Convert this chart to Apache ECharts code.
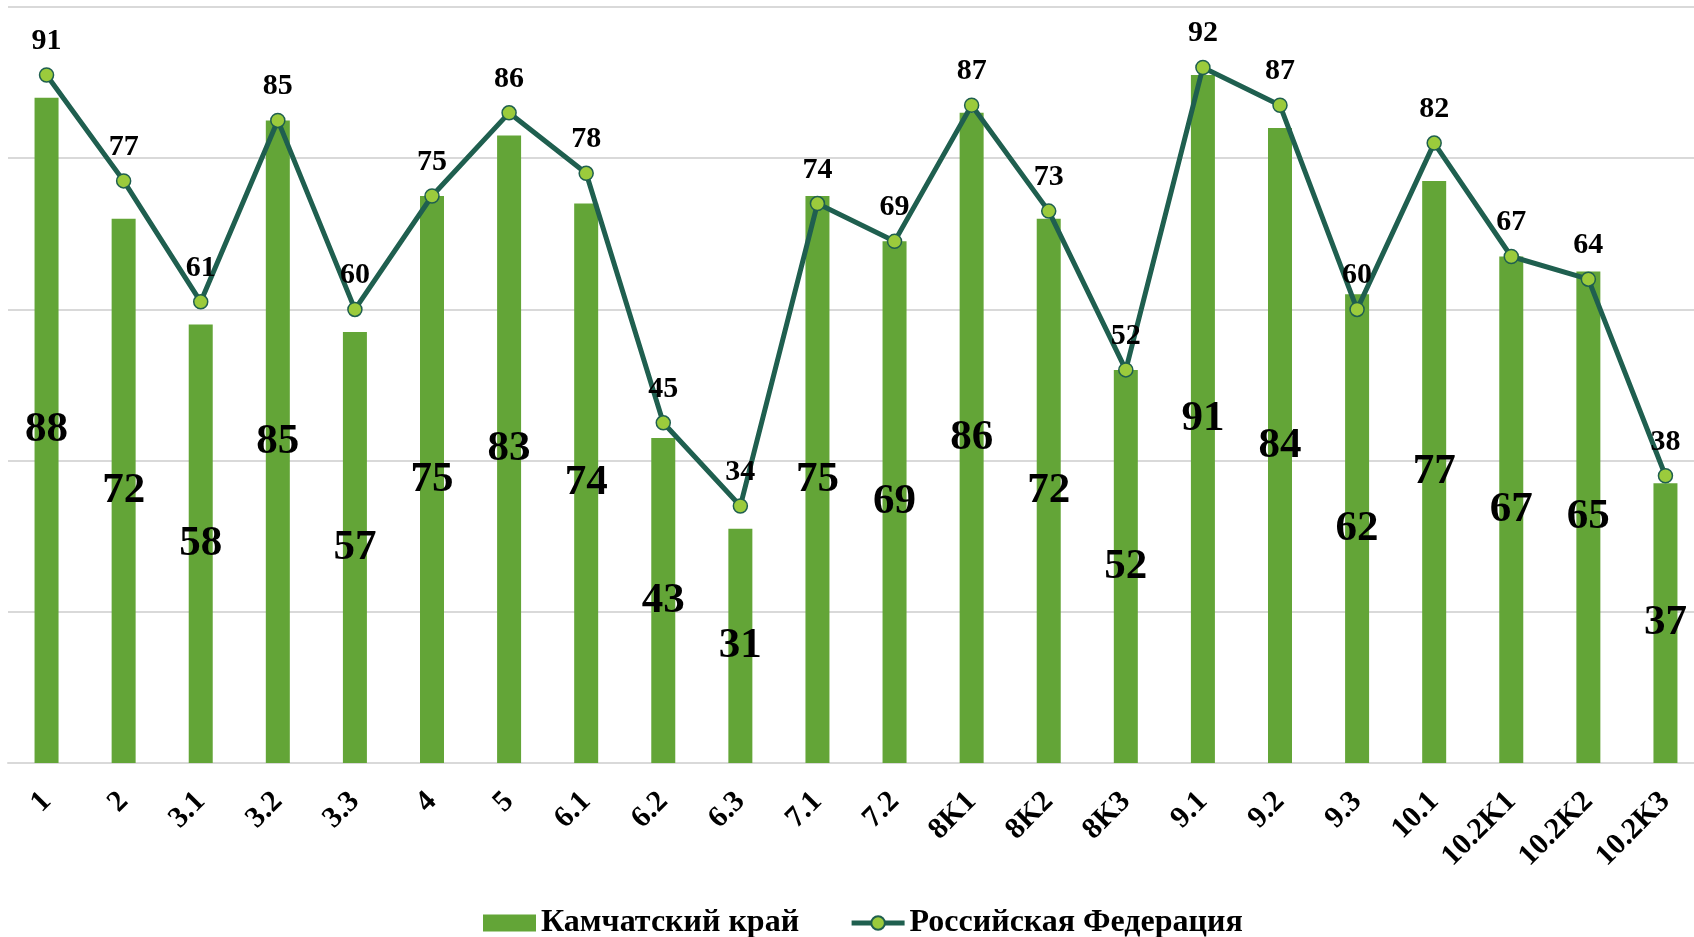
<!DOCTYPE html>
<html>
<head>
<meta charset="utf-8">
<title>Камчатский край и Российская Федерация</title>
<script src="https://cdn.jsdelivr.net/npm/echarts@6/dist/echarts.min.js"></script>
<style>
  html, body { margin: 0; padding: 0; background: #ffffff; overflow: hidden; }
  /* the plot runs slightly past the right edge of the page */
  #chart { width: 1704px; height: 937px; }
</style>
</head>
<body>
<div id="chart"></div>
<script>
// Task codes along the x axis
var categories = ['1', '2', '3.1', '3.2', '3.3', '4', '5', '6.1', '6.2', '6.3', '7.1', '7.2',
  '8K1', '8K2', '8K3', '9.1', '9.2', '9.3', '10.1', '10.2K1', '10.2K2', '10.2K3'];

// Percentages: Kamchatka region (bars) and Russian Federation (line)
var kamchatkaValues = [88, 72, 58, 85, 57, 75, 83, 74, 43, 31, 75, 69, 86, 72, 52, 91, 84, 62, 77, 67, 65, 37];
var russiaValues = [91, 77, 61, 85, 60, 75, 86, 78, 45, 34, 74, 69, 87, 73, 52, 92, 87, 60, 82, 67, 64, 38];

var seriesNames = ['Камчатский край', 'Российская Федерация'];

var serif = '"Liberation Serif", "Times New Roman", "DejaVu Serif", serif';
var barColor = '#63a537';
var lineColor = '#1f5f4f';
var markerColor = '#9bcb3c';
var gridColor = '#d9d9d9';

var chart = echarts.init(document.getElementById('chart'), null, { renderer: 'canvas' });

chart.setOption({
  animation: false,
  backgroundColor: '#ffffff',
  textStyle: { fontFamily: serif },
  grid: { left: 8, top: 7, right: 0, bottom: 174, containLabel: false },
  legend: {
    data: [
      { name: seriesNames[0], icon: 'rect' },
      { name: seriesNames[1], lineStyle: { width: 5, color: lineColor } }
    ],
    left: 478,
    top: 902,
    itemWidth: 53,
    itemHeight: 17,
    itemGap: 50,
    textStyle: { fontFamily: serif, fontWeight: 'bold', fontSize: 32, color: '#000000' }
  },
  xAxis: {
    type: 'category',
    data: categories,
    boundaryGap: true,
    axisLine: { show: true, lineStyle: { color: gridColor, width: 2 } },
    axisTick: { show: false },
    axisLabel: {
      interval: 0,
      rotate: 45,
      margin: 34,
      fontFamily: serif,
      fontWeight: 'bold',
      fontSize: 30,
      color: '#000000'
    }
  },
  yAxis: {
    type: 'value',
    min: 0,
    max: 100,
    interval: 20,
    axisLabel: { show: false },
    axisLine: { show: false },
    axisTick: { show: false },
    splitLine: { show: true, lineStyle: { color: gridColor, width: 2 } }
  },
  series: [
    {
      name: seriesNames[0],
      type: 'bar',
      data: kamchatkaValues,
      barWidth: 24,
      itemStyle: { color: barColor },
      label: {
        show: true,
        position: 'inside',
        fontFamily: serif,
        fontWeight: 'bold',
        fontSize: 43,
        color: '#000000'
      },
      z: 2
    },
    {
      name: seriesNames[1],
      type: 'line',
      data: russiaValues,
      symbol: 'circle',
      symbolSize: 14,
      lineStyle: { color: lineColor, width: 5 },
      itemStyle: { color: markerColor, borderColor: lineColor, borderWidth: 1.5 },
      label: {
        show: true,
        position: 'top',
        distance: 11,
        fontFamily: serif,
        fontWeight: 'bold',
        fontSize: 30,
        color: '#000000'
      },
      z: 3
    }
  ]
});
</script>
</body>
</html>
